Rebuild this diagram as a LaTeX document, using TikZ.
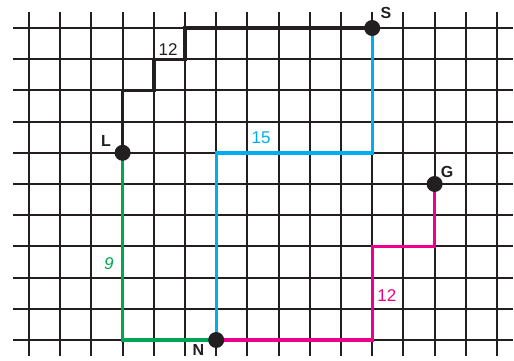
\documentclass[tikz,border=0pt]{standalone}
\usepackage{fontspec}
\setmainfont{Liberation Sans}
\definecolor{inkblack}{HTML}{231F20}
\definecolor{pathblue}{HTML}{00AEEF}
\definecolor{pathgreen}{HTML}{00A651}
\definecolor{pathmag}{HTML}{EC008C}
\begin{document}
\begin{tikzpicture}[x=31.2pt,y=-31.2pt,
  gridline/.style={line width=2pt,draw=inkblack},
  route/.style={line width=3.4pt},
  dot/.style={circle,fill=inkblack,inner sep=0pt,minimum size=16pt},
  ptlabel/.style={font=\bfseries\fontsize{16}{18}\selectfont,text=inkblack,inner sep=0pt},
  numlabel/.style={font=\fontsize{17}{19}\selectfont,inner sep=0pt}]
\useasboundingbox (-29pt,28pt) rectangle (485pt,-332pt);
% grid
\foreach \i in {0,...,15} \draw[gridline] (\i,-0.5) -- (\i,10.5);
\foreach \j in {0,...,10} \draw[gridline] (-0.5,\j) -- (15.5,\j);
% points
\coordinate (Lp) at (3,4);
\coordinate (Sp) at (11,0);
\coordinate (Gp) at (13,5);
\coordinate (Np) at (6,10);
% routes
\draw[route,draw=inkblack,line join=miter] (Lp) -- (3,2) -- (4,2) -- (4,1) -- (5,1) -- (5,0) -- (Sp);
\draw[route,draw=pathblue] (Sp) -- (11,4) -- (6,4) -- (Np);
\draw[route,draw=pathgreen] (Lp) |- (Np);
\draw[route,draw=pathmag] (Np) -- (11,10) -- (11,7) -- (13,7) -- (Gp);
% dots
\node[dot] (L) at (Lp) {};
\node[dot] (S) at (Sp) {};
\node[dot] (G) at (Gp) {};
\node[dot] (N) at (Np) {};
% point labels
\node[ptlabel] (Ll) at (2.47,3.62) {L};
\node[ptlabel] (Sl) at (11.44,-0.47) {S};
\node[ptlabel] (Gl) at (13.40,4.61) {G};
\node[ptlabel] (Nl) at (5.43,10.32) {N};
% distance labels
\node[numlabel,text=inkblack] (d1) at (4.46,0.68) {12};
\node[numlabel,text=pathblue] (d2) at (7.44,3.53) {15};
\node[numlabel,text=pathgreen,font=\itshape\fontsize{17}{19}\selectfont] (d3) at (2.56,7.56) {9};
\node[numlabel,text=pathmag] (d4) at (11.47,8.56) {12};
\end{tikzpicture}
\end{document}
